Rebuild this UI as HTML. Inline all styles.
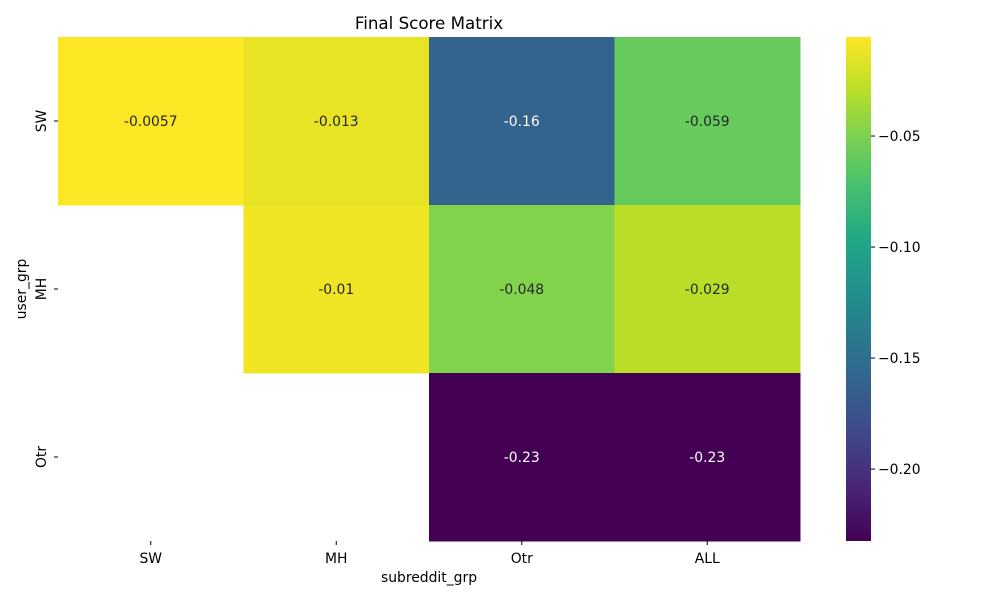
<!DOCTYPE html>
<html><head><meta charset="utf-8"><style>
body{margin:0;background:#fff;}
svg{font-family:"DejaVu Sans","Liberation Sans",sans-serif;}
</style></head><body>
<svg id="chart" width="1000" height="600" xmlns="http://www.w3.org/2000/svg">
<defs><linearGradient id="vir" x1="0" y1="1" x2="0" y2="0"></linearGradient></defs>
<text x="429" y="29" text-anchor="middle" font-size="16.7">Final Score Matrix</text>
<g id="cells"></g>
<g id="xaxis"></g>
<g id="yaxis"></g>
<text x="429" y="582" text-anchor="middle" font-size="13.9">subreddit_grp</text>
<text transform="translate(26,289) rotate(-90)" text-anchor="middle" font-size="13.9">user_grp</text>
<rect x="846" y="37" width="25" height="504" fill="url(#vir)"/>
<g id="cbticks"></g>
</svg>
<script>
const xCats=["SW","MH","Otr","ALL"];
const yCats=["SW","MH","Otr"];
const vals=[[-0.0057,-0.013,-0.16,-0.059],[null,-0.01,-0.048,-0.029],[null,null,-0.2324,-0.2324]];
const labels=[["-0.0057","-0.013","-0.16","-0.059"],["","-0.01","-0.048","-0.029"],["","","-0.23","-0.23"]];
const cbTicks=[-0.05,-0.10,-0.15,-0.20];
const cbTickLabels=["\u22120.05","\u22120.10","\u22120.15","\u22120.20"];
const vmin=-0.2324, vmax=-0.0054;
const VIR=["#440154","#482475","#414487","#355f8d","#2a788e","#21918c","#22a884","#44bf70","#7ad151","#bddf26","#fde725"];
const NS="http://www.w3.org/2000/svg";
function hex(h){return [1,3,5].map(i=>parseInt(h.substr(i,2),16));}
function cmap(t){t=Math.max(0,Math.min(1,t));const p=t*(VIR.length-1),i=Math.min(Math.floor(p),VIR.length-2),f=p-i;const a=hex(VIR[i]),b=hex(VIR[i+1]);return a.map((v,k)=>Math.round(v+(b[k]-v)*f));}
const X0=58,X1=800,Y0=37,Y1=541;
const cw=(X1-X0)/xCats.length, ch=(Y1-Y0)/yCats.length;
const xs=i=>X0+i*cw, ys=j=>Y0+j*ch;
const cbY=v=>Y0+(vmax-v)/(vmax-vmin)*(Y1-Y0);
function mk(tag,attrs,parent,txt){const e=document.createElementNS(NS,tag);for(const k in attrs)e.setAttribute(k,attrs[k]);if(txt!==undefined)e.textContent=txt;parent.appendChild(e);return e;}
const g=document.getElementById('cells');
vals.forEach((row,j)=>row.forEach((v,i)=>{
  if(v===null)return;
  const c=cmap((v-vmin)/(vmax-vmin));
  const r=mk('rect',{x:xs(i),y:ys(j),width:cw+0.5,height:ch+0.5,fill:`rgb(${c})`},g);
  
  
  const lum=0.2126*c[0]+0.7152*c[1]+0.0722*c[2];
  const t=mk('text',{x:xs(i)+cw/2,y:ys(j)+ch/2+5,'text-anchor':'middle','font-size':13.9,fill:lum>128?'#262626':'#fff'},g,labels[j][i]);
  
  
}));
const xa=document.getElementById('xaxis');
xCats.forEach((c,i)=>{
  const x=xs(i)+cw/2;
  mk('line',{x1:x,x2:x,y1:Y1,y2:Y1+4,stroke:'#000'},xa);
  const t=mk('text',{x:x,y:Y1+22,'text-anchor':'middle','font-size':13.9},xa,c);
  
  
});
const ya=document.getElementById('yaxis');
yCats.forEach((c,j)=>{
  const y=ys(j)+ch/2;
  mk('line',{x1:X0-4,x2:X0,y1:y,y2:y,stroke:'#000'},ya);
  const t=mk('text',{transform:`translate(46,${y}) rotate(-90)`,'text-anchor':'middle','font-size':13.9},ya,c);
  
  
});
const grad=document.getElementById('vir');
VIR.forEach((c,i)=>mk('stop',{offset:(i/(VIR.length-1)*100)+'%','stop-color':c},grad));
const cb=document.getElementById('cbticks');
cbTicks.forEach((v,i)=>{
  const y=cbY(v);
  mk('line',{x1:871,x2:875,y1:y,y2:y,stroke:'#000'},cb);
  const t=mk('text',{x:878,y:y+5,'font-size':13.9},cb,cbTickLabels[i]);
  
  
});
</script>
</body></html>
